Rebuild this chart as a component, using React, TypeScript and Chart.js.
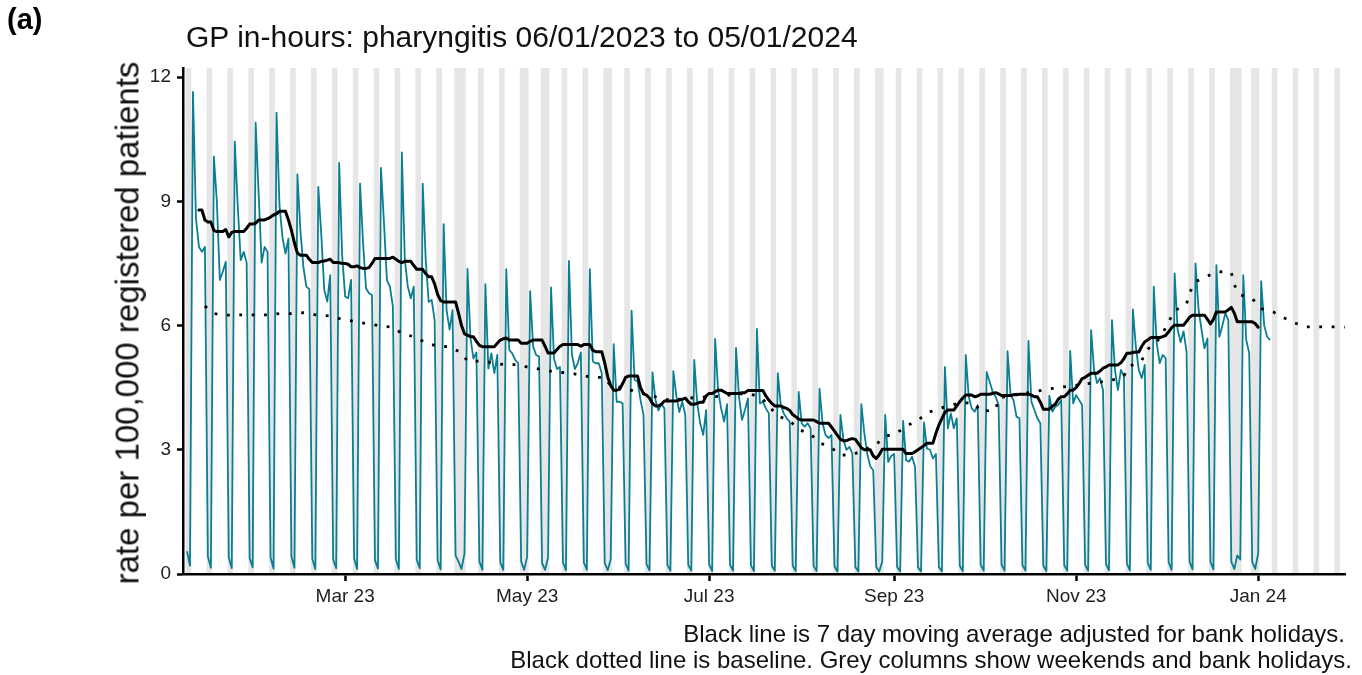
import React, { useEffect, useRef } from 'react';
import { Chart, registerables } from 'chart.js';

Chart.register(...registerables);

// ---------------- data ----------------
const START_DATE = '2023-01-06'; // index 0 of the daily series

const bankHolidays = [
  '2023-04-07', '2023-04-10', '2023-05-01', '2023-05-08', '2023-05-29',
  '2023-08-28', '2023-12-25', '2023-12-26', '2024-01-01',
];

const xTickDates = ['2023-03-01', '2023-05-01', '2023-07-01', '2023-09-01', '2023-11-01', '2024-01-01'];
const xTickLabels = ['Mar 23', 'May 23', 'Jul 23', 'Sep 23', 'Nov 23', 'Jan 24'];
const yTicks = [0, 3, 6, 9, 12];
const xAxisEndDate = '2024-01-30';

// daily rate per 100,000, from Fri 06/01/2023 (rows are Mon..Sun)
const dailyRate: (number | null)[] = [
  null, 0.55, 0.2,
  11.64, 8.6, 7.9, 7.78, 7.9, 0.42, 0.15,
  10.08, 9.0, 7.1, 7.3, 7.54, 0.4, 0.14,
  10.44, 8.9, 7.58, 7.78, 7.52, 0.38, 0.16,
  10.9, 9.2, 7.52, 7.9, 7.78, 0.4, 0.13,
  11.14, 8.9, 8.13, 7.74, 8.1, 0.42, 0.15,
  9.65, 8.3, 7.42, 6.94, 6.88, 0.36, 0.12,
  9.35, 8.2, 6.86, 6.58, 7.22, 0.35, 0.14,
  9.93, 7.7, 6.7, 6.66, 7.1, 0.38, 0.12,
  9.43, 8.0, 6.9, 6.78, 6.74, 0.33, 0.13,
  9.81, 8.5, 7.1, 6.94, 6.46, 0.36, 0.12,
  10.18, 7.6, 6.94, 6.66, 6.94, 0.34, 0.14,
  9.43, 7.6, 6.57, 6.62, 6.13, 0.33, 0.11,
  8.45, 6.37, 5.9, 6.37, 0.45, 0.3, 0.12,
  0.5, 7.37, 5.7, 5.2, 5.35, 0.3, 0.1,
  7.0, 4.96, 5.33, 4.85, 5.29, 0.28, 0.1,
  7.36, 5.41, 5.33, 5.17, 5.09, 0.3, 0.1,
  0.42, 6.83, 5.49, 5.29, 5.25, 0.27, 0.1,
  0.4, 6.92, 5.2, 4.95, 5.0, 0.28, 0.09,
  7.56, 5.3, 4.95, 5.1, 5.35, 0.28, 0.1,
  7.36, 5.13, 5.09, 5.09, 4.85, 0.27, 0.09,
  0.35, 5.55, 4.16, 4.16, 4.12, 0.25, 0.08,
  6.36, 4.69, 4.65, 4.2, 3.84, 0.24, 0.09,
  4.87, 4.2, 3.95, 4.1, 4.0, 0.22, 0.08,
  4.9, 4.3, 3.91, 4.16, 3.84, 0.22, 0.08,
  5.17, 4.12, 3.64, 3.36, 3.96, 0.23, 0.07,
  5.68, 4.44, 4.0, 3.68, 4.1, 0.22, 0.08,
  5.46, 4.28, 3.72, 3.96, 4.24, 0.21, 0.07,
  5.92, 4.12, 4.16, 4.0, 3.88, 0.2, 0.08,
  4.85, 4.08, 3.88, 3.76, 3.68, 0.2, 0.07,
  4.4, 3.64, 3.56, 3.64, 3.52, 0.19, 0.07,
  4.47, 3.64, 3.36, 3.28, 3.36, 0.18, 0.06,
  3.84, 3.24, 3.0, 3.07, 2.91, 0.17, 0.06,
  4.1, 3.4, 2.9, 2.6, 2.5, 0.17, 0.06,
  0.3, 3.84, 2.7, 2.85, 2.9, 0.17, 0.06,
  3.7, 2.75, 2.71, 2.83, 2.59, 0.16, 0.06,
  3.66, 3.03, 3.0, 2.79, 2.9, 0.17, 0.06,
  5.0, 3.52, 3.88, 3.52, 3.76, 0.2, 0.07,
  5.29, 4.28, 4.0, 3.92, 4.08, 0.22, 0.08,
  4.88, 4.65, 4.4, 4.28, 4.08, 0.22, 0.08,
  5.38, 4.32, 4.2, 3.8, 3.76, 0.21, 0.08,
  5.63, 4.16, 3.96, 3.76, 3.64, 0.2, 0.07,
  4.31, 3.92, 4.04, 4.08, 4.2, 0.21, 0.08,
  5.39, 4.12, 4.32, 4.2, 4.08, 0.22, 0.08,
  5.89, 4.93, 4.61, 4.73, 4.44, 0.24, 0.09,
  6.13, 4.93, 4.44, 4.93, 4.77, 0.25, 0.09,
  6.39, 5.49, 4.93, 4.73, 5.05, 0.26, 0.1,
  6.94, 5.57, 5.09, 5.29, 5.21, 0.28, 0.1,
  7.26, 5.9, 5.6, 5.86, 5.37, 0.3, 0.11,
  7.5, 6.41, 5.9, 5.45, 5.69, 0.3, 0.11,
  7.46, 5.73, 6.0, 6.3, 6.13, 0.3, 0.12,
  0.45, 0.35, 7.22, 5.65, 5.33, 0.3, 0.12,
  0.5, 7.07, 6.01, 5.73, 5.65,
];

// 7 day moving average, starts at index 5 (Wed 11/01/2023)
const MA_START_INDEX = 5;
const movingAverage = [
  8.79, 8.79, 8.55, 8.5, 8.5,
  8.3, 8.27, 8.27, 8.27, 8.32, 8.14, 8.25,
  8.27, 8.27, 8.27, 8.27, 8.35, 8.45, 8.45,
  8.47, 8.55, 8.55, 8.55, 8.58, 8.62, 8.67,
  8.7, 8.76, 8.76, 8.76, 8.55, 8.3, 8.0,
  7.75, 7.7, 7.7, 7.7, 7.6, 7.52, 7.52,
  7.52, 7.55, 7.56, 7.58, 7.6, 7.52, 7.52,
  7.52, 7.5, 7.5, 7.48, 7.42, 7.42, 7.44,
  7.4, 7.38, 7.38, 7.4, 7.5, 7.62, 7.62,
  7.62, 7.62, 7.62, 7.62, 7.65, 7.6, 7.55,
  7.52, 7.55, 7.55, 7.55, 7.45, 7.36, 7.36,
  7.36, 7.25, 7.18, 7.18, 7.0, 6.75, 6.6,
  6.57, 6.57, 6.57, 6.57, 6.57, 6.3, 6.0,
  5.8, 5.77, 5.73, 5.73, 5.62, 5.52, 5.49,
  5.49, 5.49, 5.49, 5.49, 5.57, 5.65, 5.68,
  5.7, 5.65, 5.65, 5.65, 5.65, 5.57, 5.57,
  5.57, 5.62, 5.65, 5.65, 5.65, 5.65, 5.5,
  5.34, 5.34, 5.34, 5.42, 5.5, 5.54, 5.54,
  5.54, 5.54, 5.54, 5.54, 5.5, 5.54, 5.54,
  5.54, 5.4, 5.37, 5.37, 5.37, 5.1, 4.76,
  4.55, 4.44, 4.44, 4.46, 4.6, 4.75, 4.78,
  4.78, 4.78, 4.78, 4.5, 4.35, 4.32, 4.25,
  4.12, 4.06, 4.06, 4.1, 4.18, 4.18, 4.18,
  4.18, 4.18, 4.2, 4.22, 4.25, 4.16, 4.1,
  4.1, 4.12, 4.15, 4.15, 4.3, 4.36, 4.36,
  4.4, 4.44, 4.44, 4.4, 4.36, 4.36, 4.36,
  4.36, 4.36, 4.38, 4.38, 4.43, 4.43, 4.43,
  4.43, 4.43, 4.43, 4.3, 4.2, 4.12, 4.06,
  4.06, 4.06, 4.02, 4.0, 3.95, 3.85, 3.8,
  3.74, 3.72, 3.72, 3.72, 3.72, 3.72, 3.68,
  3.64, 3.64, 3.64, 3.64, 3.55, 3.45, 3.35,
  3.25, 3.22, 3.22, 3.25, 3.27, 3.25, 3.15,
  3.05, 3.0, 3.0, 3.0, 2.85, 2.79, 2.88,
  3.01, 3.01, 3.01, 3.01, 3.01, 3.01, 3.01,
  3.01, 2.91, 2.91, 2.91, 2.95, 3.0, 3.05,
  3.1, 3.16, 3.16, 3.16, 3.4, 3.6, 3.75,
  3.9, 3.96, 3.96, 3.96, 4.06, 4.16, 4.25,
  4.32, 4.32, 4.32, 4.28, 4.3, 4.34, 4.34,
  4.34, 4.34, 4.36, 4.38, 4.35, 4.31, 4.31,
  4.31, 4.31, 4.33, 4.33, 4.34, 4.34, 4.34,
  4.34, 4.32, 4.28, 4.28, 4.15, 3.98, 3.98,
  3.98, 4.05, 4.1, 4.22, 4.28, 4.28, 4.35,
  4.44, 4.44, 4.5, 4.6, 4.72, 4.75, 4.8,
  4.85, 4.85, 4.85, 4.9, 4.97, 5.0, 5.05,
  5.05, 5.05, 5.05, 5.1, 5.2, 5.33, 5.33,
  5.35, 5.36, 5.36, 5.5, 5.61, 5.65, 5.71,
  5.71, 5.71, 5.71, 5.73, 5.76, 5.85, 5.95,
  6.01, 6.01, 6.01, 6.01, 6.1, 6.2, 6.25,
  6.25, 6.25, 6.25, 6.25, 6.15, 6.04, 6.15,
  6.33, 6.33, 6.33, 6.33, 6.38, 6.44, 6.3,
  6.09, 6.09, 6.09, 6.09, 6.09, 6.09, 6.05,
  5.96,
];

// baseline: day offset from 06/01/2023 and value
const baselineDay = [
  7, 10, 14, 19, 23, 28, 32, 36, 40, 44, 49, 53, 57, 61, 65, 70, 73, 78,
  81, 85, 89, 93, 95, 100, 104, 108, 112, 116, 120, 125, 129, 133, 137, 141,
  143, 148, 152, 156, 160, 164, 168, 173, 177, 181, 185, 190, 194, 196, 199,
  203, 206, 210, 213, 217, 220, 224, 228, 232, 235, 239, 242, 246, 249, 253,
  257, 261, 265, 267, 272, 273, 277, 281, 285, 289, 294, 298, 302, 306, 311,
  315, 317, 321, 323, 326, 328, 330, 332, 336, 337, 339, 343, 347, 351, 352,
  354, 358, 361, 365, 368, 372, 376, 380, 384, 389,
];
const baselineRate = [
  6.47, 6.29, 6.25, 6.26, 6.26, 6.26, 6.29, 6.29, 6.31, 6.26, 6.23, 6.15, 6.1, 6.05, 6.0, 5.96, 5.81, 5.71,
  5.58, 5.5, 5.49, 5.34, 5.14, 5.14, 5.09, 5.05, 5.06, 4.98, 4.94, 4.87, 4.86, 4.8, 4.75, 4.75,
  4.54, 4.49, 4.38, 4.34, 4.22, 4.2, 4.24, 4.27, 4.28, 4.3, 4.35, 4.35, 4.22, 4.05, 3.82,
  3.7, 3.49, 3.38, 3.17, 3.05, 2.87, 2.88, 3.0, 3.13, 3.32, 3.41, 3.57, 3.71, 3.89, 3.99,
  4.08, 4.14, 4.12, 3.92, 3.97, 4.24, 4.32, 4.36, 4.4, 4.46, 4.51, 4.55, 4.59, 4.62, 4.68,
  4.79, 5.02, 5.16, 5.43, 5.6, 5.81, 6.09, 6.36, 6.52, 6.79, 7.06, 7.2, 7.3, 7.28, 6.98,
  6.74, 6.65, 6.41, 6.33, 6.21, 6.07, 5.97, 5.97, 5.97, 5.96,
];

// ---------------- helpers ----------------
const DAY_MS = 86400000;
const parseUTC = (s: string) => {
  const [y, m, d] = s.split('-').map(Number);
  return Date.UTC(y, m - 1, d);
};
const START_MS = parseUTC(START_DATE);
const dayOf = (s: string) => Math.round((parseUTC(s) - START_MS) / DAY_MS);
const holidaySet = new Set(bankHolidays.map(dayOf));
const isGreyDay = (d: number) => {
  const dow = new Date(START_MS + d * DAY_MS).getUTCDay();
  return dow === 0 || dow === 6 || holidaySet.has(d);
};

const FONT = "'Liberation Sans', Arial, Helvetica, sans-serif";
const TEAL = '#0b7e92';
const GREY = '#e6e6e6';

const greyColumnsPlugin = {
  id: 'greyColumns',
  beforeDatasetsDraw(chart: any) {
    const { ctx, chartArea, scales } = chart;
    const x = scales.x;
    const first = Math.floor(x.min);
    const last = Math.ceil(x.max);
    ctx.save();
    ctx.beginPath();
    ctx.rect(chartArea.left, chartArea.top, chartArea.right - chartArea.left, chartArea.bottom - chartArea.top);
    ctx.clip();
    ctx.fillStyle = GREY;
    let d = first;
    while (d <= last) {
      if (isGreyDay(d)) {
        let e = d;
        while (e + 1 <= last && isGreyDay(e + 1)) e++;
        const x0 = x.getPixelForValue(d - 0.45);
        const x1 = x.getPixelForValue(e + 0.45);
        ctx.fillRect(x0, chartArea.top, x1 - x0, chartArea.bottom - chartArea.top);
        d = e + 1;
      } else {
        d++;
      }
    }
    ctx.restore();
  },
};

export default function App() {
  const canvasRef = useRef<HTMLCanvasElement | null>(null);

  useEffect(() => {
    if (!canvasRef.current) return;
    const ratePoints = dailyRate
      .map((v, i) => (v === null ? null : { x: i, y: v }))
      .filter((p) => p !== null) as { x: number; y: number }[];
    const maPoints = movingAverage.map((v, i) => ({ x: i + MA_START_INDEX, y: v }));
    const basePoints = baselineDay.map((d, i) => ({ x: d, y: baselineRate[i] }));
    const tickDays = xTickDates.map(dayOf);

    const chart = new Chart(canvasRef.current, {
      type: 'line',
      data: {
        datasets: [
          {
            label: 'baseline',
            data: basePoints,
            borderColor: '#000',
            borderWidth: 2.8,
            borderDash: [2.8, 9.6],
            borderCapStyle: 'butt',
            pointRadius: 0,
            tension: 0,
            order: 1,
          },
          {
            label: '7 day moving average',
            data: maPoints,
            borderColor: '#000',
            borderWidth: 3,
            borderJoinStyle: 'round',
            borderCapStyle: 'round',
            pointRadius: 0,
            tension: 0,
            order: 2,
          },
          {
            label: 'daily rate',
            data: ratePoints,
            borderColor: TEAL,
            borderWidth: 1.8,
            borderJoinStyle: 'round',
            pointRadius: 0,
            tension: 0,
            order: 3,
          },
        ],
      },
      options: {
        animation: false,
        responsive: false,
        maintainAspectRatio: false,
        parsing: false,
        layout: { padding: { left: 0, right: 17, top: 68, bottom: 0 } },
        plugins: {
          legend: { display: false },
          tooltip: { enabled: false },
          title: { display: false },
        },
        scales: {
          x: {
            type: 'linear',
            min: -0.34,
            max: dayOf(xAxisEndDate) + 0.1,
            grid: {
              display: true,
              drawOnChartArea: false,
              drawTicks: true,
              tickLength: 7,
              tickWidth: 2.5,
              tickColor: '#000',
            },
            border: { display: true, color: '#000', width: 2.5, z: 1 },
            ticks: {
              autoSkip: false,
              maxRotation: 0,
              padding: 4,
              color: '#222',
              font: { family: FONT, size: 19 },
              callback: (_v: any, i: number) => xTickLabels[i],
            },
            afterBuildTicks: (s: any) => {
              s.ticks = tickDays.map((v) => ({ value: v }));
            },
            afterFit: (s: any) => {
              s.height = 101;
            },
          },
          y: {
            type: 'linear',
            min: 0,
            max: 12.22,
            grid: {
              display: true,
              drawOnChartArea: false,
              drawTicks: true,
              tickLength: 6,
              tickWidth: 2.5,
              tickColor: '#000',
            },
            border: { display: true, color: '#000', width: 2.5, z: 1 },
            ticks: {
              padding: 6,
              color: '#222',
              font: { family: FONT, size: 19 },
              callback: (v: any) => String(v),
            },
            afterBuildTicks: (s: any) => {
              s.ticks = yTicks.map((v) => ({ value: v }));
            },
            afterFit: (s: any) => {
              s.width = 183;
            },
          },
        },
      } as any,
      plugins: [greyColumnsPlugin],
    });
    return () => chart.destroy();
  }, []);

  const textBase: React.CSSProperties = {
    position: 'absolute',
    fontFamily: FONT,
    color: '#111',
    whiteSpace: 'nowrap',
    lineHeight: 1,
  };

  return (
    <div
      style={{
        position: 'fixed',
        left: 0,
        top: 0,
        width: 1362,
        height: 675,
        background: '#fff',
        overflow: 'hidden',
      }}
    >
      <canvas
        ref={canvasRef}
        width={1362}
        height={675}
        style={{ position: 'absolute', left: 0, top: 0, width: 1362, height: 675 }}
      />
      <div style={{ ...textBase, left: 7, top: 5, fontSize: 29, fontWeight: 'bold', color: '#000' }}>(a)</div>
      <div style={{ ...textBase, left: 186, top: 22, fontSize: 30 }}>
        GP in-hours: pharyngitis 06/01/2023 to 05/01/2024
      </div>
      <div
        style={{
          ...textBase,
          left: 127,
          top: 323,
          fontSize: 33,
          transform: 'translate(-50%, -50%) rotate(-90deg)',
        }}
      >
        rate per 100,000 registered patients
      </div>
      <div style={{ ...textBase, right: 17, top: 622, fontSize: 24, textAlign: 'right' }}>
        Black line is 7 day moving average adjusted for bank holidays.
      </div>
      <div style={{ ...textBase, right: 10, top: 648, fontSize: 24, textAlign: 'right' }}>
        Black dotted line is baseline. Grey columns show weekends and bank holidays.
      </div>
    </div>
  );
}
